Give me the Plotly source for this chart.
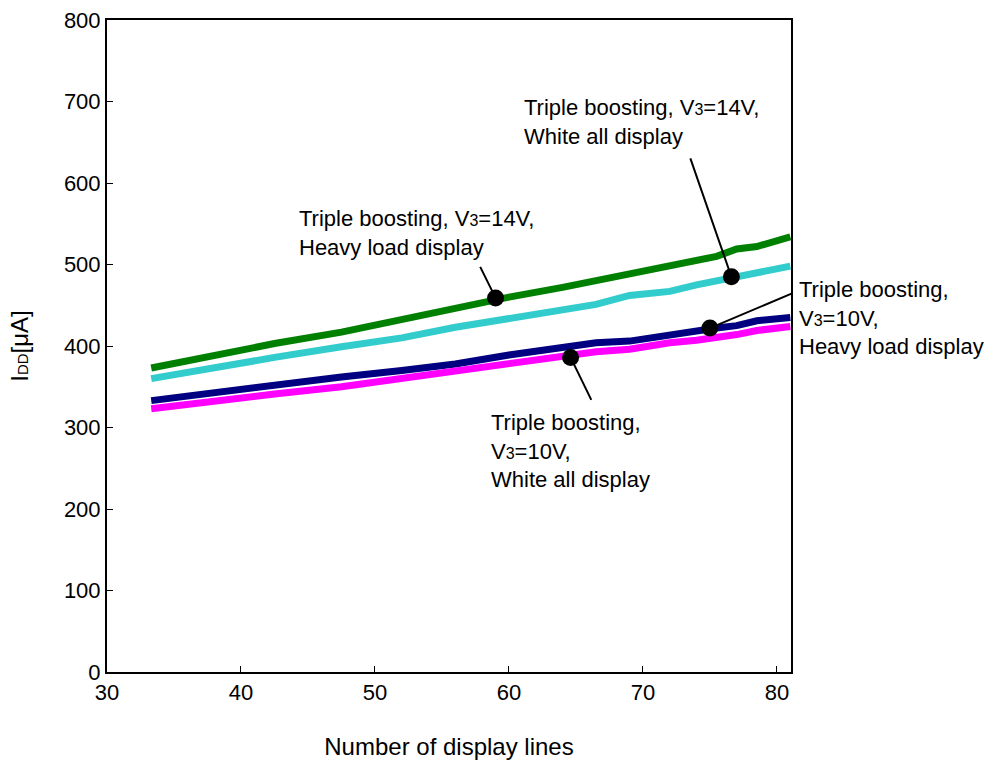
import plotly.graph_objects as go

# Supply current vs. number of display lines
lines_x = [33.3, 37, 42.5, 47.5, 52, 56, 60, 64, 66.5, 69, 72, 74, 75.5, 77, 78.5, 81]
green_y = [373, 385, 403, 417, 433, 446, 460, 472, 480, 490, 498, 506, 510, 519, 522, 534]
cyan_y = [360, 371, 386, 399, 410, 423, 433, 445, 451, 462, 467, 475, 480, 484, 489, 498]
navy_y = [333, 341, 352, 362, 370, 378, 389, 398, 404, 406, 414, 420, 422, 425, 431, 435]
magenta_y = [323, 331, 341, 350, 360, 368, 378, 387, 393, 396, 404, 407, 410, 414, 419, 424]

series = [
    ("14V heavy load", green_y, "#008000"),
    ("14V white all", cyan_y, "#33CCCC"),
    ("10V heavy load", navy_y, "#000080"),
    ("10V white all", magenta_y, "#FF00FF"),
]

# Callout dots on each curve and the ends of their leader lines
dot_x = [59, 76.6, 75, 64.6]
dot_y = [459, 485, 422, 386]
lead_x = [57.8, 73.5, 81.2, 66.2]
lead_y = [499, 632, 465, 332]

SUB = "<span style='font-size:16px'>3</span>"
label_text = [
    f"Triple boosting, V{SUB}=14V,<br>Heavy load display",
    f"Triple boosting, V{SUB}=14V,<br>White all display",
    f"Triple boosting,<br>V{SUB}=10V,<br>Heavy load display",
    f"Triple boosting,<br>V{SUB}=10V,<br>White all display",
]
# (x in data units except the right-hand label, which sits past the axis end)
label_x = [44.2, 61.0, 1.0088, 58.5]
label_xref = ["x", "x", "paper", "x"]
label_y = [574, 710, 487, 324]

x_ticks = [30, 40, 50, 60, 70, 80]
y_ticks = [0, 100, 200, 300, 400, 500, 600, 700, 800]

fig = go.Figure()
for name, ys, color in series:
    fig.add_trace(go.Scatter(x=lines_x, y=ys, mode="lines", name=name,
                             line=dict(color=color, width=7)))

fig.add_trace(go.Scatter(x=dot_x, y=dot_y, mode="markers",
                         marker=dict(color="black", size=17), cliponaxis=False))

annotations = []
for dx, dy, lx, ly in zip(dot_x, dot_y, lead_x, lead_y):
    annotations.append(dict(x=dx, y=dy, ax=lx, ay=ly, xref="x", yref="y",
                            axref="x", ayref="y", text="", showarrow=True,
                            arrowhead=0, arrowwidth=2, arrowcolor="black"))
for t, lx, xr, ly in zip(label_text, label_x, label_xref, label_y):
    annotations.append(dict(x=lx, y=ly, xref=xr, yref="y", text=t,
                            showarrow=False, xanchor="left", yanchor="top",
                            align="left", font=dict(size=22, color="black")))

fig.update_layout(
    width=998, height=760,
    margin=dict(l=107, r=207, t=20, b=88),
    paper_bgcolor="white", plot_bgcolor="white",
    showlegend=False,
    font=dict(family="Liberation Sans, Arial, sans-serif", size=20, color="black"),
    annotations=annotations,
    xaxis=dict(range=[30, 81.05], tickvals=x_ticks, ticks="inside", ticklen=6,
               tickcolor="black", showline=True, linecolor="black", linewidth=2,
               mirror=True, showgrid=False, zeroline=False, automargin=False,
               title=dict(text="Number of display lines", standoff=40),
               tickfont=dict(size=22)),
    yaxis=dict(range=[0, 800], tickvals=y_ticks, ticks="inside", ticklen=6,
               tickcolor="black", showline=True, linecolor="black", linewidth=2,
               mirror=True, showgrid=False, zeroline=False, automargin=False,
               title=dict(text="I<span style='font-size:15px'>DD</span>[μA]", standoff=28),
               tickfont=dict(size=22)),
)

fig.write_html("out.html")
